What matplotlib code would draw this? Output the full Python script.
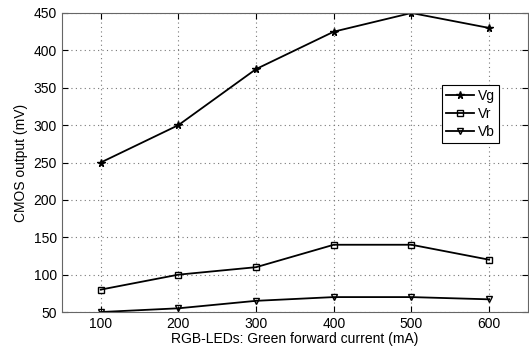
import matplotlib
matplotlib.use("Agg")
import matplotlib.pyplot as plt

plt.rcParams["font.family"] = ["Liberation Sans", "DejaVu Sans"]

current = [100, 200, 300, 400, 500, 600]
vg = [250, 300, 375, 425, 450, 430]
vr = [80, 100, 110, 140, 140, 120]
vb = [50, 55, 65, 70, 70, 67]

fig = plt.figure(figsize=(5.29, 3.51), dpi=100)
ax = fig.add_axes([0.117, 0.111, 0.881, 0.852])

ax.plot(current, vg, color="black", marker="*", markersize=5.5, linewidth=1.3, label="Vg")
ax.plot(current, vr, color="black", marker="s", markersize=5, markerfacecolor="none",
        linewidth=1.3, label="Vr")
ax.plot(current, vb, color="black", marker="v", markersize=5, markerfacecolor="none",
        linewidth=1.3, label="Vb")

ax.set_xlim(50, 650)
ax.set_ylim(50, 450)
ax.set_xticks(current)
ax.set_yticks(range(50, 451, 50))
ax.tick_params(direction="in", labelsize=10, length=4, top=True, right=True)
ax.grid(True, linestyle=(0, (1, 3)), color="#777777", linewidth=0.8)
for s in ax.spines.values():
    s.set_color("#666666")

ax.set_xlabel("RGB-LEDs: Green forward current (mA)", fontsize=10, labelpad=1)
ax.set_ylabel("CMOS output (mV)", fontsize=10, labelpad=4)

leg = ax.legend(loc="upper left", bbox_to_anchor=(0.8, 0.783), fontsize=10,
                fancybox=False, framealpha=1, edgecolor="black", handlelength=2,
                handletextpad=0.3, borderpad=0.3, labelspacing=0.3)
leg.get_frame().set_linewidth(0.8)

fig.savefig("out.png", dpi=100)
